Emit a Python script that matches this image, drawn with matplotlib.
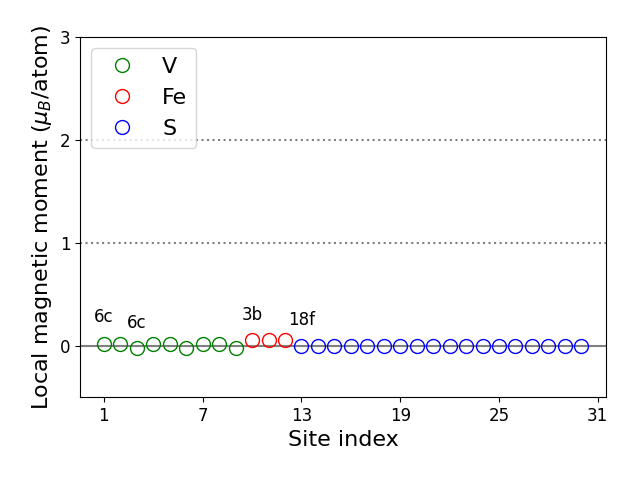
import matplotlib
matplotlib.use("Agg")
import matplotlib.pyplot as plt

v_sites = [1, 2, 3, 4, 5, 6, 7, 8, 9]
v_moments = [0.02, 0.02, -0.025, 0.02, 0.02, -0.02, 0.02, 0.02, -0.02]
fe_sites = [10, 11, 12]
fe_moments = [0.05, 0.05, 0.05]
s_sites = list(range(13, 31))
s_moments = [0.0] * 18

labels = ["6c", "6c", "3b", "18f"]
label_x = [1, 3, 10, 13]
label_y = [0.28, 0.22, 0.30, 0.25]

xticks = [1, 7, 13, 19, 25, 31]
yticks = [0, 1, 2, 3]

fig, ax = plt.subplots(figsize=(6.4, 4.8), dpi=100)
fig.subplots_adjust(left=80/640, right=606/640, top=1-37/480, bottom=1-397/480)
ax.axhline(0, color="gray", lw=1.5, zorder=1)
ax.axhline(1, color="gray", ls=":", lw=1.5, zorder=1)
ax.axhline(2, color="gray", ls=":", lw=1.5, zorder=1)
ax.plot(v_sites, v_moments, "o", mfc="none", mec="green", ms=10, label="V")
ax.plot(fe_sites, fe_moments, "o", mfc="none", mec="red", ms=10, label="Fe")
ax.plot(s_sites, s_moments, "o", mfc="none", mec="blue", ms=10, label="S")
for t, x, y in zip(labels, label_x, label_y):
    ax.text(x, y, t, fontsize=12, ha="center", va="center")
ax.set_xlim(-0.45, 31.5)
ax.set_ylim(-0.5, 3)
ax.set_xticks(xticks)
ax.set_yticks(yticks)
ax.tick_params(labelsize=12)
ax.set_xlabel("Site index", fontsize=16)
ax.set_ylabel(r"Local magnetic moment ($\mu_B$/atom)", fontsize=16)
ax.legend(fontsize=16, loc="upper left")
fig.savefig("out.png")
